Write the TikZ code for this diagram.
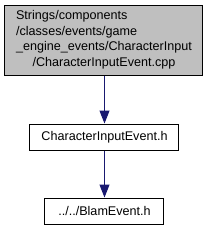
\documentclass[tikz,border=0pt]{standalone}
\usepackage{fontspec}
\setmainfont{Liberation Sans}
\usetikzlibrary{arrows.meta}
\definecolor{edgeblue}{HTML}{191970}
\definecolor{boxgray}{HTML}{BFBFBF}
\tikzset{
  filebox/.style={draw=black, line width=1pt, fill=white, inner sep=0pt, font=\fontsize{12.6pt}{15.5pt}\selectfont},
  dep/.style={draw=edgeblue, line width=1pt, -{Triangle[length=13pt,width=10pt]}}
}
\begin{document}
\begin{tikzpicture}[x=1pt,y=1pt]
\useasboundingbox (0,0) rectangle (209,-231);
\node[filebox, fill=boxgray, minimum width=198pt, minimum height=70pt] (src) at (104,-40)
  {\begin{tabular}{@{}l@{}}Strings/components\\/classes/events/game\\\_engine\_events/CharacterInput\\\multicolumn{1}{@{}c@{}}{/CharacterInputEvent.cpp}\end{tabular}};
\node[filebox, minimum width=149pt, minimum height=26pt] (mid) at (104.5,-137) {CharacterInputEvent.h};
\node[filebox, minimum width=119pt, minimum height=26pt] (bot) at (104.5,-211) {../../BlamEvent.h};
\draw[dep] (src.south -| mid.north) -- (mid.north);
\draw[dep] (mid) -- (bot);
\end{tikzpicture}
\end{document}
